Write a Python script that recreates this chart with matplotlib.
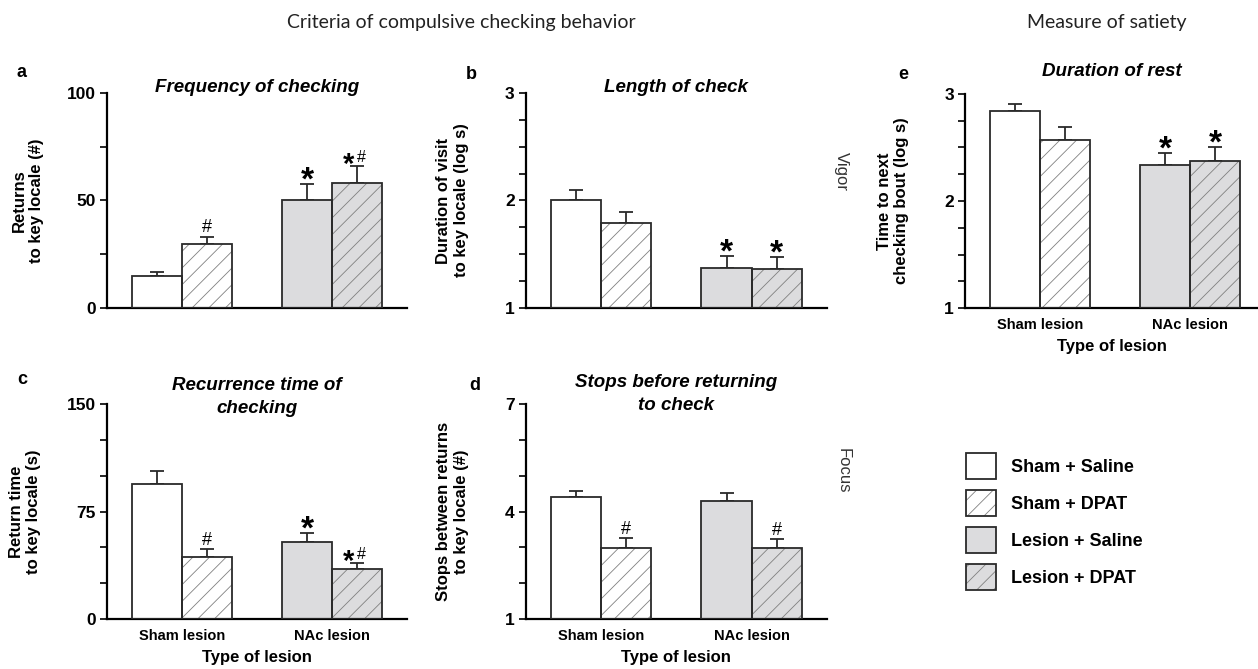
import numpy as np
import matplotlib.pyplot as plt
from matplotlib.patches import Patch

plt.rcParams['font.family'] = ['Liberation Sans', 'DejaVu Sans']
plt.rcParams['hatch.linewidth'] = 0.6

groups = ['Sham lesion', 'NAc lesion']
conditions = ['Sham + Saline', 'Sham + DPAT', 'Lesion + Saline', 'Lesion + DPAT']

# a - frequency of checking
freq_mean = [15, 30, 50, 58]
freq_sem = [1.7, 3.2, 7.5, 8.0]
freq_marks = ['', '#', '*', '*#']

# b - length of check
length_mean = [2.0, 1.79, 1.37, 1.36]
length_sem = [0.1, 0.1, 0.11, 0.11]
length_marks = ['', '', '*', '*']

# c - recurrence time
recur_mean = [94, 43.5, 54, 35]
recur_sem = [9, 5.5, 6.2, 4.1]
recur_marks = ['', '#', '*', '*#']

# d - stops before returning
stops_mean = [4.4, 2.98, 4.3, 2.98]
stops_sem = [0.17, 0.28, 0.22, 0.25]
stops_marks = ['', '#', '', '#']

# e - duration of rest
rest_mean = [2.84, 2.57, 2.34, 2.37]
rest_sem = [0.07, 0.12, 0.11, 0.13]
rest_marks = ['', '', '*', '*']

fills = ['white', 'white', '#dcdcde', '#dcdcde']
hatches = [None, '//', None, '//']
edge = '#2a2a2a'
hatch_col = '#808080'
xpos = [1, 2, 4, 5]


def panel(ax, means, sems, marks, ylim, ticks, shown, ylabel, title, title_y,
          xlabels=False, xmax=6):
    for x, m, f, h in zip(xpos, means, fills, hatches):
        ax.bar(x, m - ylim[0], bottom=ylim[0], width=1, color=f, hatch=h,
               edgecolor=hatch_col, linewidth=0, zorder=2)
        ax.bar(x, m - ylim[0], bottom=ylim[0], width=1, fill=False,
               edgecolor=edge, linewidth=1.3, zorder=3)
    ax.errorbar(xpos, means, yerr=[np.zeros(4), sems], fmt='none', ecolor=edge,
                elinewidth=1.3, capsize=5, capthick=1.3, zorder=1)
    for x, m, s, mk in zip(xpos, means, sems, marks):
        top = m + s
        if mk == '*':
            ax.annotate('*', (x, top), xytext=(0, -4), textcoords='offset points',
                        ha='center', va='baseline', fontsize=24, fontweight='bold')
        elif mk == '#':
            ax.annotate('#', (x, top), xytext=(0, 3), textcoords='offset points',
                        ha='center', va='baseline', fontsize=13)
        elif mk == '*#':
            ax.annotate('*', (x, top), xytext=(-6, -5), textcoords='offset points',
                        ha='center', va='baseline', fontsize=21, fontweight='bold')
            ax.annotate('#', (x, top), xytext=(3.5, 3), textcoords='offset points',
                        ha='center', va='baseline', fontsize=11.5)
    ax.set_xlim(0, xmax)
    ax.set_ylim(*ylim)
    ax.set_yticks(ticks)
    ax.set_yticklabels([str(t) if t in shown else '' for t in ticks],
                       fontweight='bold', fontsize=12.5)
    ax.spines[['top', 'right']].set_visible(False)
    ax.spines[['left', 'bottom']].set_linewidth(1.6)
    ax.tick_params(axis='y', direction='out', length=5, width=1.2, pad=3)
    if xlabels:
        ax.set_xticks([1.5, 4.5])
        ax.set_xticklabels(groups, fontweight='bold', fontsize=10.5)
        ax.tick_params(axis='x', length=0, pad=7)
        ax.set_xlabel('Type of lesion', fontweight='bold', fontsize=12, labelpad=5)
    else:
        ax.set_xticks([])
    ax.set_ylabel(ylabel, fontweight='bold', fontsize=12)
    ax.text(0.5, title_y, title, transform=ax.transAxes, ha='center', va='bottom',
            fontsize=13.5, fontweight='bold', fontstyle='italic', linespacing=1.45)


fig = plt.figure(figsize=(12.58, 6.69), dpi=100)

ax_a = fig.add_axes([0.085, 0.5396, 0.2385, 0.3214])
ax_b = fig.add_axes([0.418, 0.5396, 0.2393, 0.3214])
ax_e = fig.add_axes([0.767, 0.5396, 0.233, 0.3199])
ax_c = fig.add_axes([0.085, 0.0747, 0.2385, 0.3214])
ax_d = fig.add_axes([0.418, 0.0747, 0.2393, 0.3214])

panel(ax_a, freq_mean, freq_sem, freq_marks, (0, 100), [0, 25, 50, 75, 100],
      [0, 50, 100], 'Returns\nto key locale (#)', 'Frequency of checking', 0.985)
panel(ax_b, length_mean, length_sem, length_marks, (1, 3),
      [1, 1.25, 1.5, 1.75, 2, 2.25, 2.5, 2.75, 3], [1, 2, 3],
      'Duration of visit\nto key locale (log s)', 'Length of check', 0.985)
panel(ax_c, recur_mean, recur_sem, recur_marks, (0, 150),
      [0, 25, 50, 75, 100, 125, 150], [0, 75, 150],
      'Return time\nto key locale (s)', 'Recurrence time of\nchecking', 0.94, xlabels=True)
panel(ax_d, stops_mean, stops_sem, stops_marks, (1, 7), [1, 2, 3, 4, 5, 6, 7],
      [1, 4, 7], 'Stops between returns\nto key locale (#)',
      'Stops before returning\nto check', 0.955, xlabels=True)
panel(ax_e, rest_mean, rest_sem, rest_marks, (1, 3),
      [1, 1.25, 1.5, 1.75, 2, 2.25, 2.5, 2.75, 3], [1, 2, 3],
      'Time to next\nchecking bout (log s)', 'Duration of rest', 1.065,
      xlabels=True, xmax=5.86)

ax_a.yaxis.set_label_coords(-0.21, 0.5)
ax_c.yaxis.set_label_coords(-0.22, 0.5)
ax_b.yaxis.set_label_coords(-0.19, 0.5)
ax_d.yaxis.set_label_coords(-0.19, 0.5)
ax_e.yaxis.set_label_coords(-0.19, 0.5)

for lab, x, y in [('a', 0.0135, 0.891), ('b', 0.370, 0.889), ('e', 0.714, 0.888),
                  ('c', 0.0135, 0.432), ('d', 0.373, 0.424)]:
    fig.text(x, y, lab, fontsize=13, fontweight='bold', ha='left', va='center')

fig.text(0.367, 0.967, 'Criteria of compulsive checking behavior', ha='center',
         va='center', fontsize=14, color='#222222', family=['Lato', 'DejaVu Sans'])
fig.text(0.880, 0.967, 'Measure of satiety', ha='center', va='center',
         fontsize=14, color='#222222', family=['Lato', 'DejaVu Sans'])
fig.text(0.669, 0.744, 'Vigor', rotation=270, ha='center', va='center',
         fontsize=12, color='#333333')
fig.text(0.670, 0.297, 'Focus', rotation=270, ha='center', va='center',
         fontsize=12, color='#333333')

handles = []
for f, h in zip(fills, hatches):
    handles.append((Patch(facecolor=f, hatch=h, edgecolor=hatch_col, linewidth=0),
                    Patch(fill=False, edgecolor=edge, linewidth=1.3)))
fig.legend(handles, conditions, loc='upper left', bbox_to_anchor=(0.768, 0.323),
           frameon=False, prop={'weight': 'bold', 'size': 13}, handlelength=1.65,
           handleheight=1.83, labelspacing=0.62, handletextpad=0.85, borderpad=0,
           borderaxespad=0)

fig.savefig('out.png', dpi=100)
